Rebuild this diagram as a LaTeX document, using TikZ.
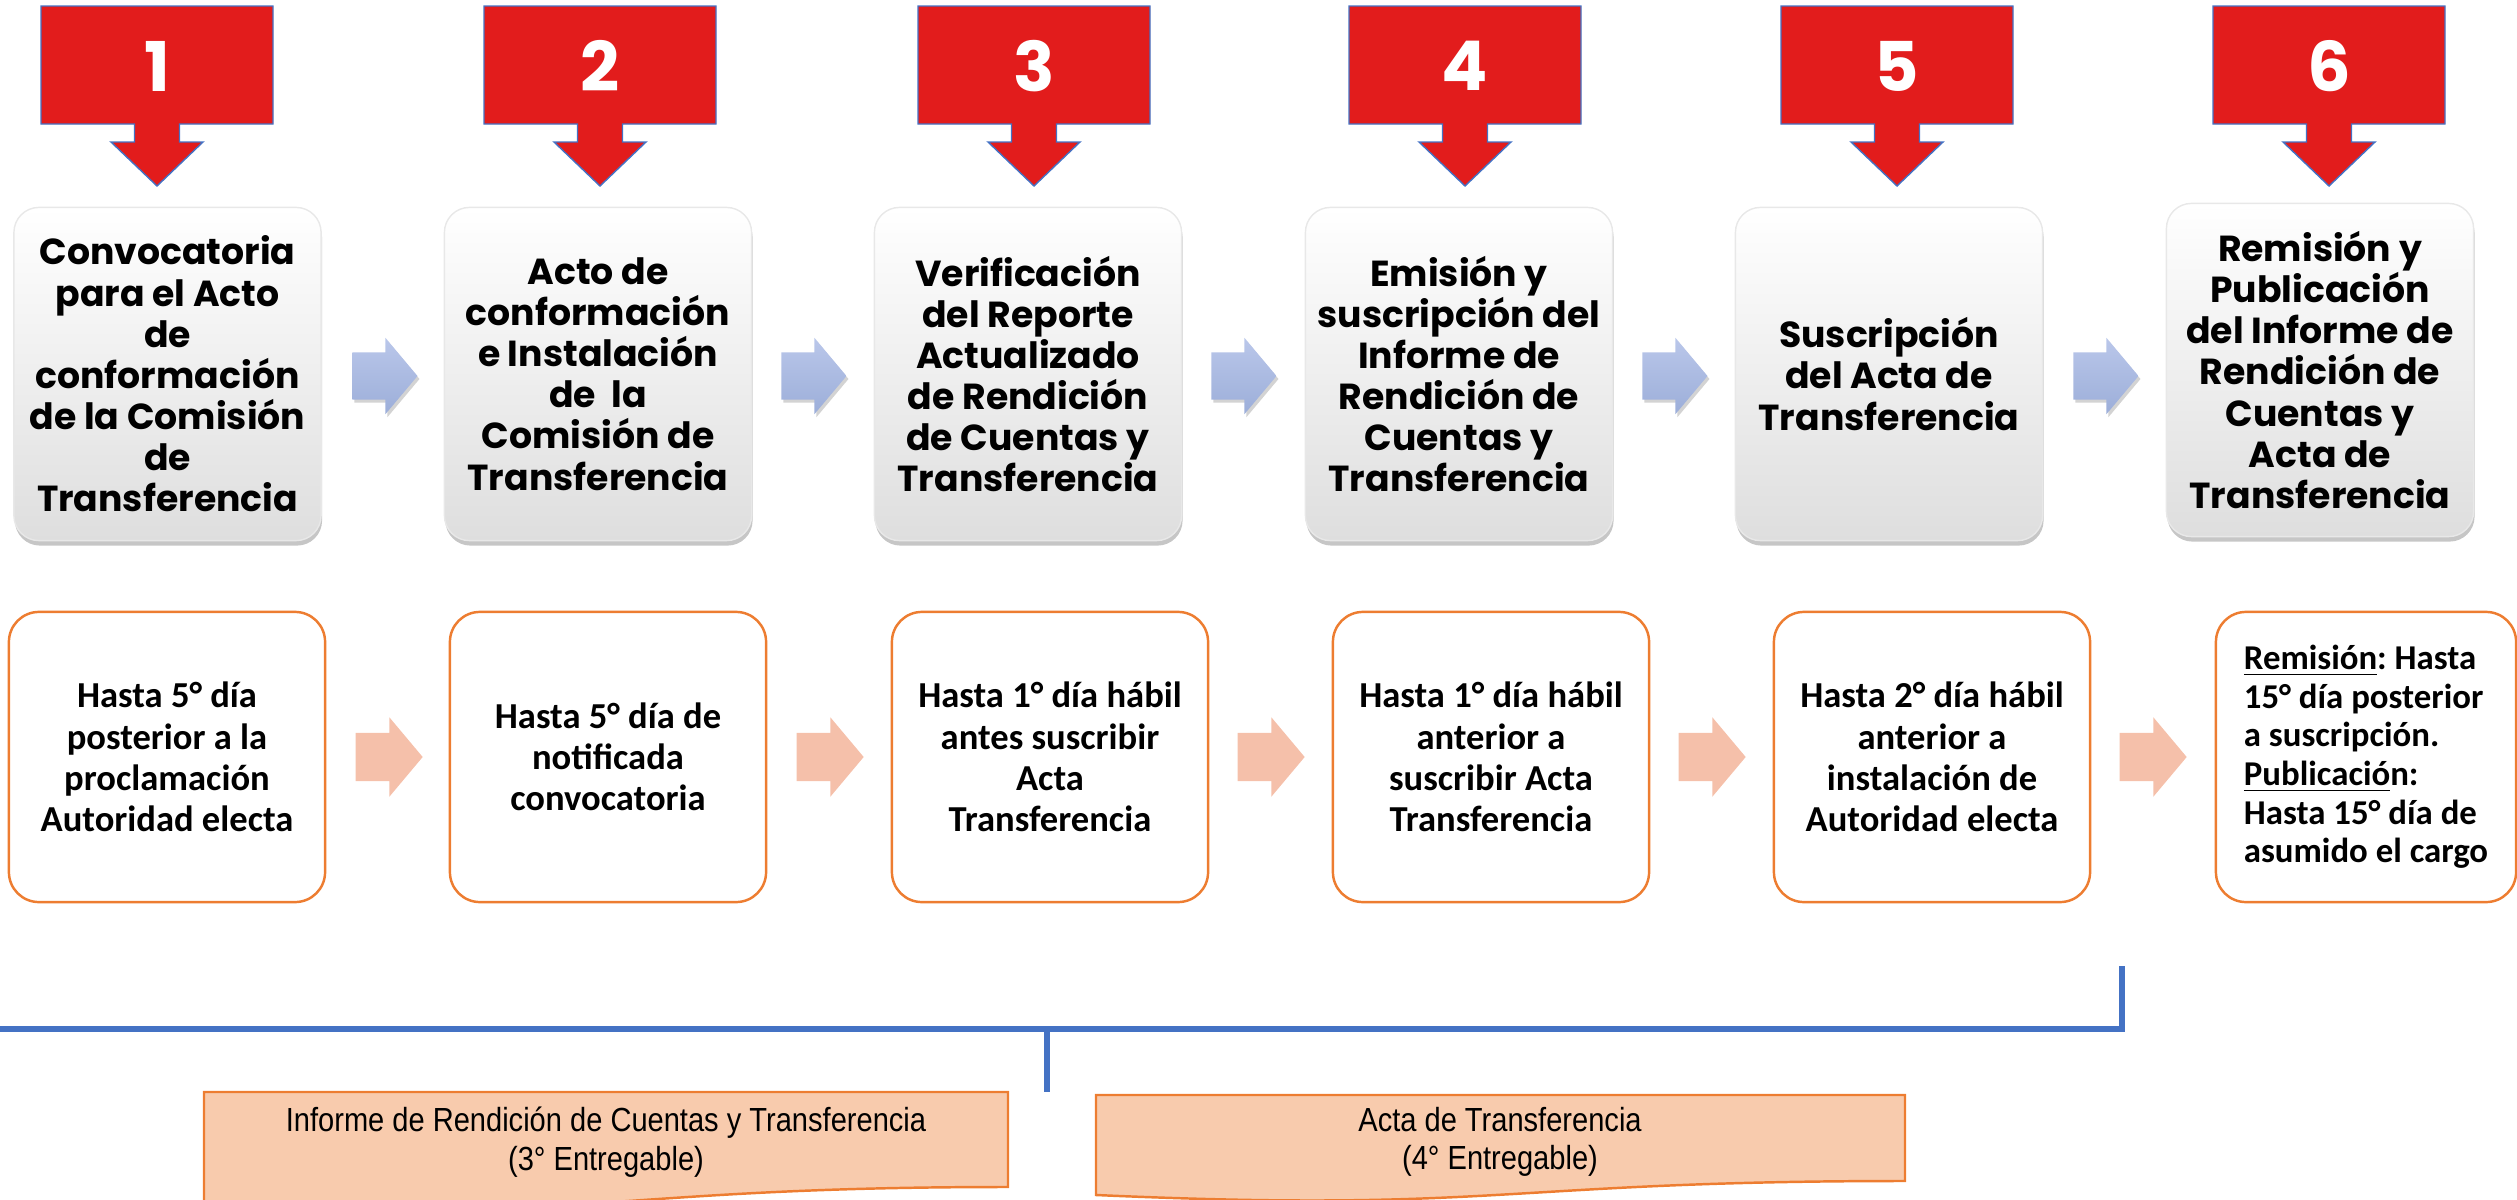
\documentclass[tikz,border=0pt]{standalone}
\usepackage{fontspec}
\setmainfont{Carlito}
\newfontfamily\gothic{Poppins}
\newfontfamily\narrow[FakeStretch=0.87]{Liberation Sans}
\usetikzlibrary{shapes.arrows,shadows}
\definecolor{callred}{HTML}{E21C1C}
\definecolor{lineblue}{HTML}{4472C4}
\definecolor{boxgray}{HTML}{DEDEDE}
\definecolor{arrowtop}{HTML}{BAC7EA}
\definecolor{arrowbot}{HTML}{9CAED9}
\definecolor{salmon}{HTML}{F5C0AA}
\definecolor{orangeline}{HTML}{ED7D31}
\definecolor{docfill}{HTML}{F8CBAD}
\frenchspacing

\begin{document}
\begin{tikzpicture}[x=0.01cm, y=-0.01cm,
    every node/.style={inner sep=0pt},
    callout/.style={fill=callred, draw=lineblue, line width=0.4pt},
    number/.style={text=white, font=\gothic\bfseries\fontsize{19.5}{20}\selectfont},
    etapa/.style={rounded corners=0.25cm, minimum width=3.07cm, minimum height=3.33cm,
        top color=white, bottom color=boxgray, draw=boxgray!70,
        drop shadow={shadow xshift=0.01cm, shadow yshift=-0.05cm, opacity=0.45},
        align=center, font=\gothic\bfseries\fontsize{10.3}{11.7}\selectfont},
    bluearrow/.style={single arrow, inner xsep=0pt, inner ysep=0.23cm, single arrow head extend=0.145cm,
        single arrow tip angle=100, minimum height=0.65cm, top color=arrowtop, bottom color=arrowbot,
        drop shadow={shadow xshift=0.02cm, shadow yshift=-0.03cm, opacity=0.35}},
    plazo/.style={draw=orangeline, line width=0.7pt, rounded corners=0.3cm, minimum width=3.16cm,
        minimum height=2.9cm, align=center, font=\bfseries\fontsize{10.4}{11.7}\selectfont},
    pinkarrow/.style={single arrow, inner xsep=0pt, inner ysep=0.235cm, single arrow head extend=0.155cm,
        single arrow tip angle=100, minimum height=0.67cm, fill=salmon},
    bracket/.style={draw=lineblue, line width=0.06cm},
    entrega/.style={fill=docfill, draw=orangeline, line width=0.7pt},
    entregatext/.style={align=center, font=\narrow\fontsize{9.5}{11}\selectfont}]

    \useasboundingbox (0,0) rectangle (2517,1200);
    \clip (0,0) rectangle (2517,1200);

    \draw[callout] (41,6) -- ++(232,0) -- ++(0,118) -- ++(-93.5,0) -- ++(0,18) -- ++(23.5,0) -- ++(-46,44) -- ++(-46,-44) -- ++(23.5,0) -- ++(0,-18) -- ++(-93.5,0) -- cycle;
    \draw[callout] (484,6) -- ++(232,0) -- ++(0,118) -- ++(-93.5,0) -- ++(0,18) -- ++(23.5,0) -- ++(-46,44) -- ++(-46,-44) -- ++(23.5,0) -- ++(0,-18) -- ++(-93.5,0) -- cycle;
    \draw[callout] (918,6) -- ++(232,0) -- ++(0,118) -- ++(-93.5,0) -- ++(0,18) -- ++(23.5,0) -- ++(-46,44) -- ++(-46,-44) -- ++(23.5,0) -- ++(0,-18) -- ++(-93.5,0) -- cycle;
    \draw[callout] (1349,6) -- ++(232,0) -- ++(0,118) -- ++(-93.5,0) -- ++(0,18) -- ++(23.5,0) -- ++(-46,44) -- ++(-46,-44) -- ++(23.5,0) -- ++(0,-18) -- ++(-93.5,0) -- cycle;
    \draw[callout] (1781,6) -- ++(232,0) -- ++(0,118) -- ++(-93.5,0) -- ++(0,18) -- ++(23.5,0) -- ++(-46,44) -- ++(-46,-44) -- ++(23.5,0) -- ++(0,-18) -- ++(-93.5,0) -- cycle;
    \draw[callout] (2213,6) -- ++(232,0) -- ++(0,118) -- ++(-93.5,0) -- ++(0,18) -- ++(23.5,0) -- ++(-46,44) -- ++(-46,-44) -- ++(23.5,0) -- ++(0,-18) -- ++(-93.5,0) -- cycle;

    \node[number] (n1) at (157,66) {1};
    \node[number] (n2) at (600,66) {2};
    \node[number] (n3) at (1034,66) {3};
    \node[number] (n4) at (1465,66) {4};
    \node[number] (n5) at (1897,66) {5};
    \node[number] (n6) at (2329,66) {6};

    \node[etapa] (s1) at (167.5,374) {Convocatoria\\para el Acto\\de\\conformación\\de la Comisión\\de\\Transferencia};
    \node[etapa] (s2) at (598,374) {Acto de\\conformación\\e Instalación\\de\ \ la\\Comisión de\\Transferencia};
    \node[etapa] (s3) at (1028,374) {Verificación\\del Reporte\\Actualizado\\de Rendición\\de Cuentas y\\Transferencia};
    \node[etapa] (s4) at (1459,374) {Emisión y\\suscripción del\\Informe de\\Rendición de\\Cuentas y\\Transferencia};
    \node[etapa] (s5) at (1889,374) {Suscripción\\del Acta de\\Transferencia};
    \node[etapa] (s6) at (2320,370) {Remisión y\\Publicación\\del Informe de\\Rendición de\\Cuentas y\\Acta de\\Transferencia};

    \node[bluearrow] (a1) at (375,376) {};
    \node[bluearrow] (a2) at (804,376) {};
    \node[bluearrow] (a3) at (1234,376) {};
    \node[bluearrow] (a4) at (1665,376) {};
    \node[bluearrow] (a5) at (2096,376) {};

    \node[plazo] (p1) at (167,757) {Hasta 5° día\\posterior a la\\proclamación\\Autoridad electa};
    \node[plazo] (p2) at (608,757) {Hasta 5° día de\\notificada\\convocatoria};
    \node[plazo] (p3) at (1050,757) {Hasta 1° día hábil\\antes suscribir\\Acta\\Transferencia};
    \node[plazo] (p4) at (1491,757) {Hasta 1° día hábil\\anterior a\\suscribir Acta\\Transferencia};
    \node[plazo] (p5) at (1932,757) {Hasta 2° día hábil\\anterior a\\instalación de\\Autoridad electa};
    \node[plazo, minimum width=3.0cm, align=left, font=\bfseries\fontsize{9.9}{11}\selectfont] (p6) at (2366,757)
        {\underline{Remisión}: Hasta\\15° día posterior\\a suscripción.\\\underline{Publicació}n:\\Hasta 15° día de\\asumido el cargo};

    \node[pinkarrow] (b1) at (379,757) {};
    \node[pinkarrow] (b2) at (820,757) {};
    \node[pinkarrow] (b3) at (1261,757) {};
    \node[pinkarrow] (b4) at (1702,757) {};
    \node[pinkarrow] (b5) at (2143,757) {};

    \coordinate (bl) at (-10,1029);
    \coordinate (br) at (2122,1029);
    \coordinate (bt) at (2122,966);
    \coordinate (bm) at (1047,1029);
    \coordinate (bd) at (1047,1092);
    \draw[bracket] (bl) -- (br) -- (bt);
    \draw[bracket] (bm) -- (bd);

    \draw[entrega] (204,1092) -- (1008,1092) -- (1008,1187) .. controls (606,1187) and (606,1223) .. (204,1203) -- cycle;
    \draw[entrega] (1096,1095) -- (1905,1095) -- (1905,1181) .. controls (1500,1181) and (1500,1213) .. (1096,1195) -- cycle;

    \node[entregatext] (e1) at (606,1142) {Informe de Rendición de Cuentas y Transferencia\\(3° Entregable)};
    \node[entregatext] (e2) at (1500,1142) {Acta de Transferencia\\(4° Entregable)};

\end{tikzpicture}
\end{document}
